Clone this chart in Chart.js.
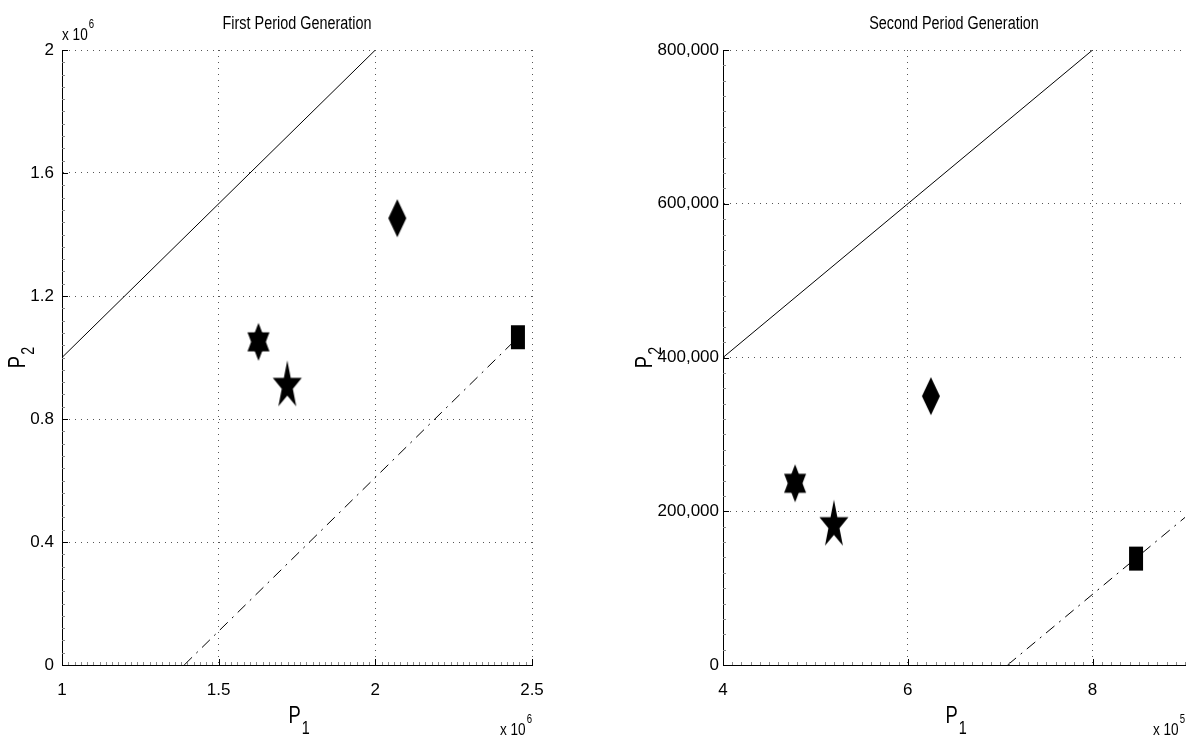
<!DOCTYPE html>
<html><head><meta charset="utf-8">
<script src="https://cdn.jsdelivr.net/npm/chart.js@4.4.0/dist/chart.umd.min.js"></script>
<style>
html,body{margin:0;padding:0;background:#fff;}
#wrap{position:relative;width:1189px;height:736px;overflow:hidden;background:#fff;}
canvas{position:absolute;top:0;}
#c1{left:0;} #c2{left:595px;}
</style></head><body>
<div id="wrap"><canvas id="c1" width="595" height="736"></canvas><canvas id="c2" width="594" height="736"></canvas></div>
<script>
// ---------- data: left panel ----------
const leftTitle = 'First Period Generation';
const leftXRange = [1e6, 2.5e6];
const leftYRange = [0, 2e6];
const leftXTicks = [1e6, 1.5e6, 2e6, 2.5e6];
const leftXTickLabels = ['1', '1.5', '2', '2.5'];
const leftYTicks = [0, 0.4e6, 0.8e6, 1.2e6, 1.6e6, 2e6];
const leftYTickLabels = ['0', '0.4', '0.8', '1.2', '1.6', '2'];
const leftSolidX = [1e6, 2e6];
const leftSolidY = [1e6, 2e6];
const leftDashX = [1.39e6, 2.455e6];
const leftDashY = [0, 1.065e6];
const leftMarkerX = [1.627e6, 1.719e6, 2.07e6, 2.455e6];
const leftMarkerY = [1.051e6, 0.916e6, 1.453e6, 1.066e6];
const leftXExponent = '6';
const leftYExponent = '6';

// ---------- data: right panel ----------
const rightTitle = 'Second Period Generation';
const rightXRange = [4e5, 9e5];
const rightYRange = [0, 8e5];
const rightXTicks = [4e5, 6e5, 8e5];
const rightXTickLabels = ['4', '6', '8'];
const rightYTicks = [0, 2e5, 4e5, 6e5, 8e5];
const rightYTickLabels = ['0', '200,000', '400,000', '600,000', '800,000'];
const rightSolidX = [4e5, 8e5];
const rightSolidY = [4e5, 8e5];
const rightDashX = [7.08e5, 9e5];
const rightDashY = [0, 1.92e5];
const rightMarkerX = [4.78e5, 5.20e5, 6.25e5, 8.47e5];
const rightMarkerY = [236400, 185200, 349700, 138400];
const rightXExponent = '5';

const markerKinds = ['hexagram', 'pentagram', 'diamond', 'square'];
const xLabelMain = 'P', xLabelSub = '1';
const yLabelMain = 'P', yLabelSub = '2';

const FONT = "'Liberation Sans', Arial, Helvetica, sans-serif";
const SX = 0.8; // horizontal condensing for hand-placed texts

function makeMarker(kind) {
  const c = document.createElement('canvas');
  c.width = 34; c.height = 50;
  const g = c.getContext('2d');
  g.fillStyle = '#000';
  g.translate(17, 25);
  if (kind === 'hexagram') {
    const w = 11, h = 19;
    g.beginPath(); g.moveTo(0, -h); g.lineTo(w, h / 2); g.lineTo(-w, h / 2); g.closePath(); g.fill();
    g.beginPath(); g.moveTo(0, h); g.lineTo(-w, -h / 2); g.lineTo(w, -h / 2); g.closePath(); g.fill();
  } else if (kind === 'pentagram') {
    const Rx = 15.25, Ry = 25.4, k = 0.382, dy = 0.0955 * Ry;
    g.beginPath();
    for (let i = 0; i < 10; i++) {
      const ang = -Math.PI / 2 + i * Math.PI / 5;
      const r = i % 2 ? k : 1;
      const px = Math.cos(ang) * Rx * r, py = Math.sin(ang) * Ry * r + dy;
      if (i === 0) g.moveTo(px, py); else g.lineTo(px, py);
    }
    g.closePath(); g.fill();
  } else if (kind === 'diamond') {
    g.beginPath(); g.moveTo(0, -19); g.lineTo(9, 0); g.lineTo(0, 19); g.lineTo(-9, 0); g.closePath(); g.fill();
  } else {
    g.fillRect(-7, -12, 14, 24);
  }
  return c;
}

// condensed text helpers
function tw(ctx, s, size) { ctx.save(); ctx.font = size + 'px ' + FONT; const w = ctx.measureText(s).width * SX; ctx.restore(); return w; }
function tx(ctx, s, x, y, size, align) {
  ctx.save(); ctx.translate(x, y); ctx.scale(SX, 1);
  ctx.font = size + 'px ' + FONT; ctx.textAlign = align || 'left'; ctx.textBaseline = 'alphabetic';
  ctx.fillText(s, 0, 0); ctx.restore();
}

const decor = {
  id: 'decor',
  afterDraw(chart, args, o) {
    const { ctx, chartArea: a } = chart;
    const x = chart.scales.x, y = chart.scales.y;
    ctx.save();
    // minor ticks
    ctx.strokeStyle = '#8a8a8a'; ctx.lineWidth = 1;
    ctx.beginPath();
    const ny = Math.round((y.max - y.min) / o.yMinor);
    for (let i = 0; i <= ny; i++) {
      const p = Math.round(y.getPixelForValue(y.min + i * o.yMinor)) + 0.5;
      ctx.moveTo(a.left, p); ctx.lineTo(a.left + 3, p);
    }
    const nx = Math.round((x.max - x.min) / o.xMinor);
    for (let i = 0; i <= nx; i++) {
      const p = Math.round(x.getPixelForValue(x.min + i * o.xMinor)) + 0.5;
      ctx.moveTo(p, a.bottom); ctx.lineTo(p, a.bottom - 3);
    }
    ctx.stroke();
    // major ticks
    ctx.strokeStyle = '#000';
    ctx.beginPath();
    y.ticks.forEach(t => { const p = Math.round(y.getPixelForValue(t.value)) + 0.5; ctx.moveTo(a.left, p); ctx.lineTo(a.left + 6, p); });
    x.ticks.forEach(t => { const p = Math.round(x.getPixelForValue(t.value)) + 0.5; ctx.moveTo(p, a.bottom); ctx.lineTo(p, a.bottom - 6); });
    ctx.stroke();

    ctx.fillStyle = '#000';
    const cx = (a.left + a.right) / 2, cy = (a.top + a.bottom) / 2;
    // title
    tx(ctx, o.title, cx, 29, 18, 'center');
    // x label
    const wp = tw(ctx, xLabelMain, 23);
    tx(ctx, xLabelMain, cx - 8.5, a.bottom + 58, 23);
    tx(ctx, xLabelSub, cx - 8.5 + wp + 1, a.bottom + 69, 18);
    // y label (rotated)
    ctx.save();
    ctx.translate(a.left - o.yLabelOffset, cy);
    ctx.rotate(-Math.PI / 2);
    const wp2 = tw(ctx, yLabelMain, 23), ws2 = tw(ctx, yLabelSub, 18);
    const tot = wp2 + 1 + ws2;
    tx(ctx, yLabelMain, -tot / 2, 0, 23);
    tx(ctx, yLabelSub, -tot / 2 + wp2 + 1, 9, 18);
    ctx.restore();
    // exponents
    const drawExp = (exp, left, base) => {
      const wm = tw(ctx, 'x 10', 17);
      tx(ctx, 'x 10', left, base, 17);
      tx(ctx, exp, left + wm + 1, base - 12, 12);
    };
    const wmx = tw(ctx, 'x 10', 17), wsx = tw(ctx, o.xExp, 12);
    drawExp(o.xExp, a.right - wmx - 1 - wsx, 735);
    if (o.yExp) drawExp(o.yExp, a.left, 40);
    ctx.restore();
  }
};

function buildChart(id, cfg) {
  const pts = (xs, ys) => xs.map((v, i) => ({ x: v, y: ys[i] }));
  const styles = markerKinds.map(makeMarker);
  const tickFont = { family: FONT, size: 17 };
  return new Chart(document.getElementById(id), {
    type: 'scatter',
    data: {
      datasets: [
        { data: pts(cfg.markerX, cfg.markerY), showLine: false, pointStyle: styles, pointRadius: 12, pointHoverRadius: 12, backgroundColor: '#000', borderColor: '#000' },
        { data: pts(cfg.solidX, cfg.solidY), showLine: true, borderColor: '#000', borderWidth: 1, pointRadius: 0, fill: false },
        { data: pts(cfg.dashX, cfg.dashY), showLine: true, borderColor: '#000', borderWidth: 1, borderDash: [11, 6, 2, 6], pointRadius: 0, fill: false }
      ]
    },
    options: {
      responsive: false, animation: false, devicePixelRatio: 1,
      events: [],
      layout: { autoPadding: false, padding: { left: 0, right: cfg.padRight, top: 50, bottom: 0 } },
      plugins: {
        legend: { display: false }, tooltip: { enabled: false },
        decor: { title: cfg.title, xExp: cfg.xExp, yExp: cfg.yExp, xMinor: cfg.xMinor, yMinor: cfg.yMinor, yLabelOffset: cfg.yLabelOffset }
      },
      scales: {
        x: {
          type: 'linear', min: cfg.xRange[0], max: cfg.xRange[1],
          afterBuildTicks: s => { s.ticks = cfg.xTicks.map(v => ({ value: v })); },
          afterFit: s => { s.height = 71; s.paddingLeft = 0; s.paddingRight = 0; },
          ticks: { callback: (v, i) => cfg.xTickLabels[i], font: tickFont, color: '#000', padding: 15, maxRotation: 0, autoSkip: false },
          grid: { color: '#555', lineWidth: 1, drawTicks: false },
          border: { display: true, color: '#000', width: 1, dash: [1, 5] }
        },
        y: {
          type: 'linear', min: cfg.yRange[0], max: cfg.yRange[1],
          afterBuildTicks: s => { s.ticks = cfg.yTicks.map(v => ({ value: v })); },
          afterFit: s => { s.width = cfg.yWidth; s.paddingTop = 0; s.paddingBottom = 0; },
          ticks: { callback: (v, i) => cfg.yTickLabels[i], font: tickFont, color: '#000', padding: cfg.yPad, autoSkip: false },
          grid: { color: '#555', lineWidth: 1, drawTicks: false },
          border: { display: true, color: '#000', width: 1, dash: [1, 5] }
        }
      }
    },
    plugins: [decor]
  });
}

buildChart('c1', {
  title: leftTitle, xRange: leftXRange, yRange: leftYRange,
  xTicks: leftXTicks, xTickLabels: leftXTickLabels, yTicks: leftYTicks, yTickLabels: leftYTickLabels,
  solidX: leftSolidX, solidY: leftSolidY, dashX: leftDashX, dashY: leftDashY,
  markerX: leftMarkerX, markerY: leftMarkerY, xExp: leftXExponent, yExp: leftYExponent,
  padRight: 63, yWidth: 62, yPad: 8, xMinor: 0.02e6, yMinor: 0.04e6, yLabelOffset: 37
});
buildChart('c2', {
  title: rightTitle, xRange: rightXRange, yRange: rightYRange,
  xTicks: rightXTicks, xTickLabels: rightXTickLabels, yTicks: rightYTicks, yTickLabels: rightYTickLabels,
  solidX: rightSolidX, solidY: rightSolidY, dashX: rightDashX, dashY: rightDashY,
  markerX: rightMarkerX, markerY: rightMarkerY, xExp: rightXExponent, yExp: null,
  padRight: 4, yWidth: 128, yPad: 4, xMinor: 0.1e5, yMinor: 0.2e5, yLabelOffset: 71
});
</script>
</body></html>
